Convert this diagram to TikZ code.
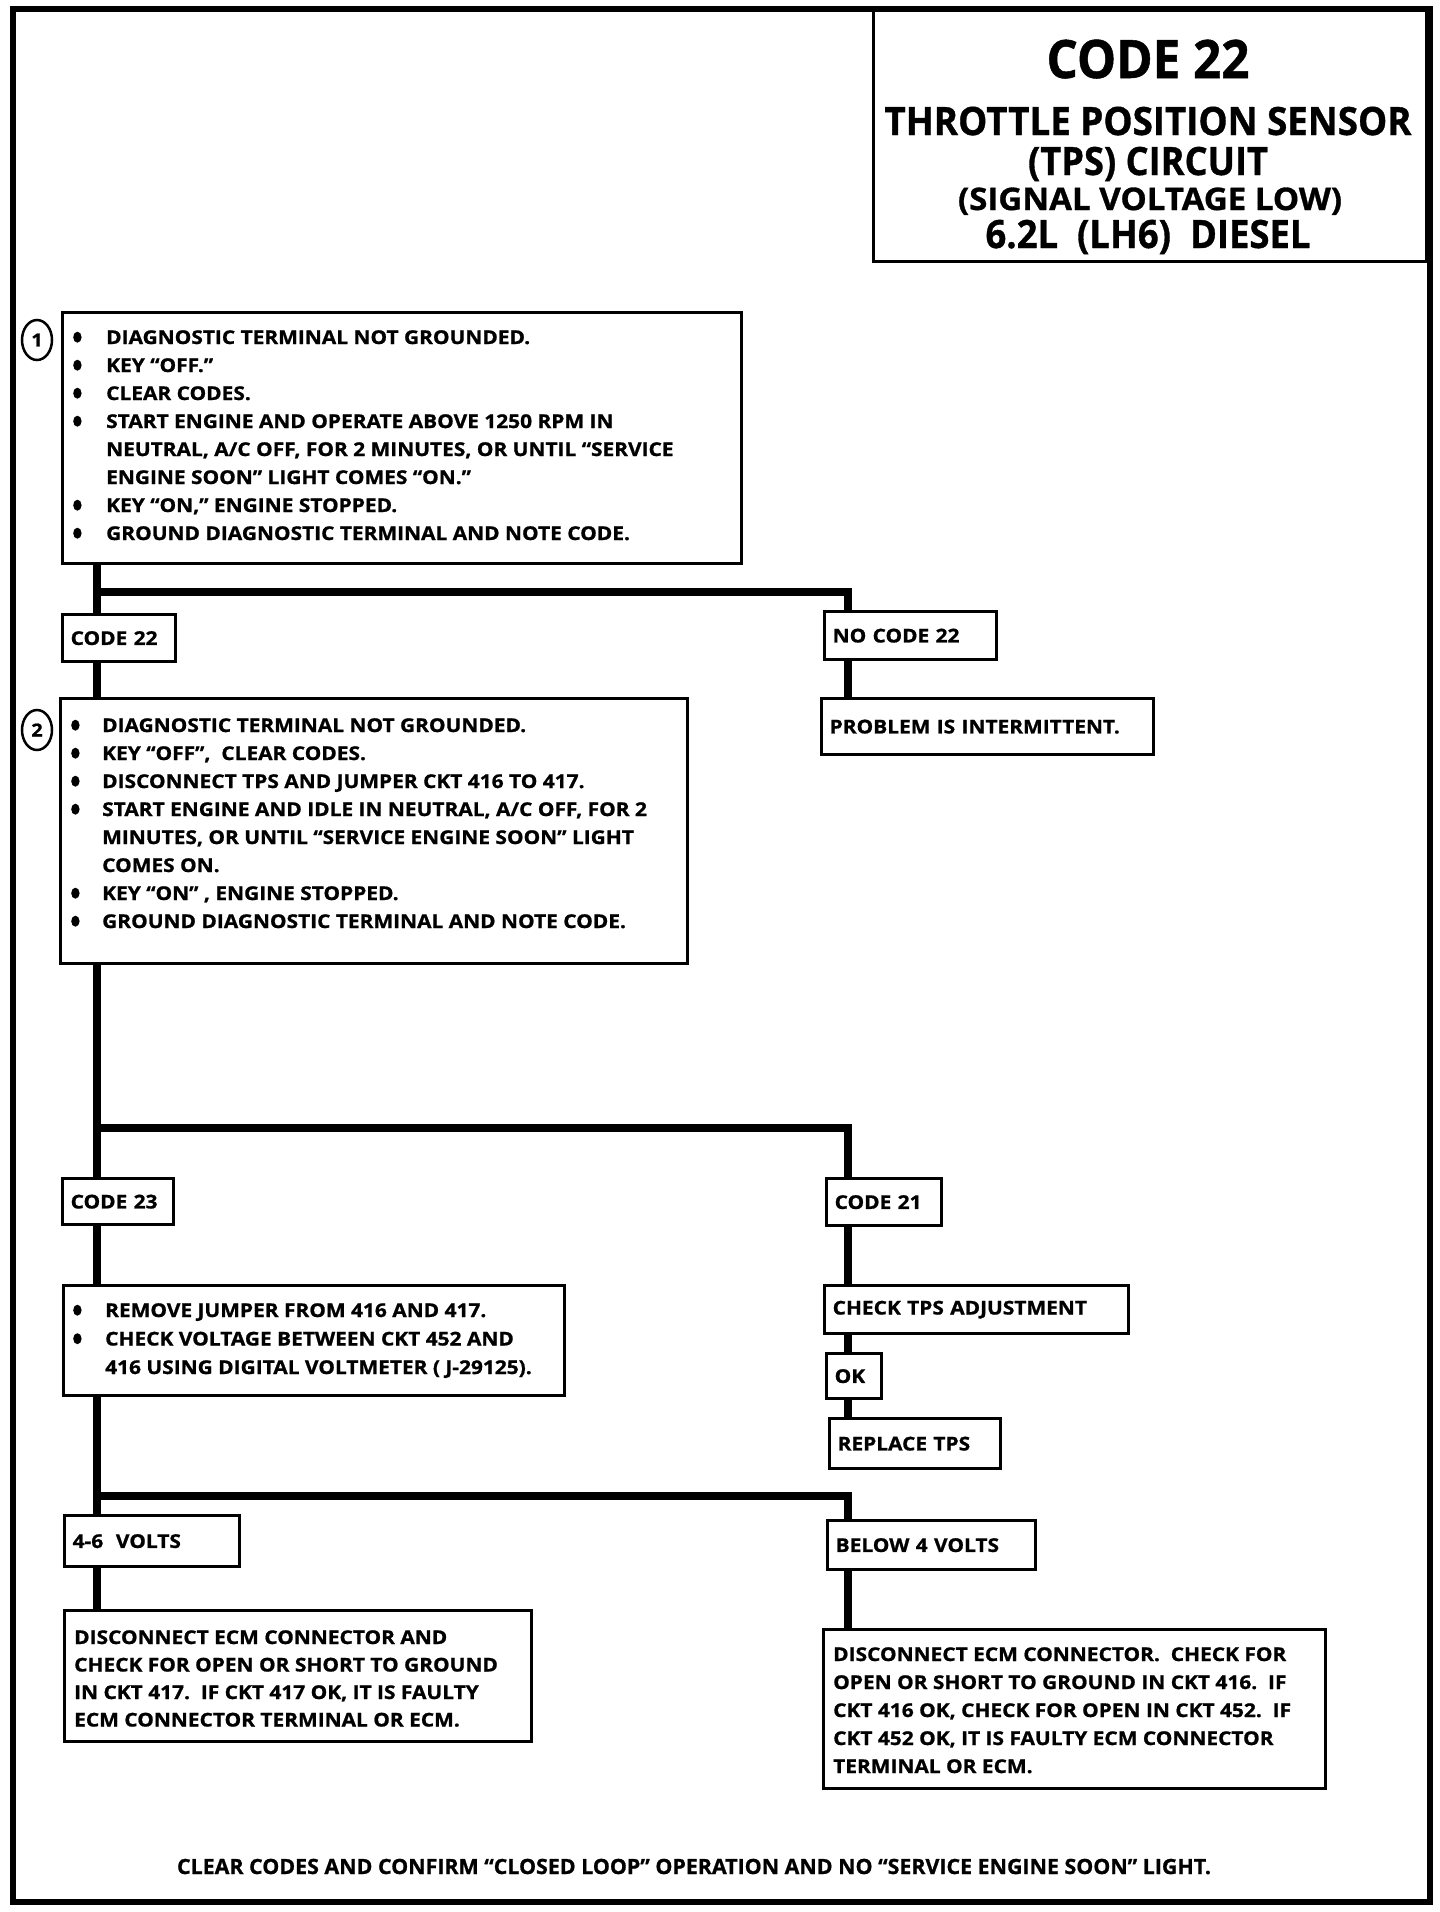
\documentclass[tikz,border=0pt]{standalone}
\usepackage{fontspec}
\usepackage{graphicx}
\setmainfont{Open Sans}[BoldFeatures={FakeStretch=1.1,FakeBold=1}]
\usetikzlibrary{shapes.geometric,calc}
\newcommand\bodyfont{\fontsize{19}{28}\selectfont\bfseries}
\newcommand\fitw[2]{\setbox0=\hbox{#2}\pgfmathsetmacro\fitr{#1/\wd0}\scalebox{\fitr}[1]{\box0}}
\newcommand\bdot{\tikz[baseline=0pt]\fill[black] (4.2pt,6.8pt) ellipse [x radius=4.2pt, y radius=5.5pt];}
\newcommand\bl[1]{\makebox[#1][l]{\bdot}}
\newcommand\fl{\rule{0pt}{15pt}}
\begin{document}
\begin{tikzpicture}[x=1pt,y=-1pt,
  frame/.style={line width=6pt},
  box/.style={draw, line width=3.3pt, rectangle, inner sep=0pt, anchor=north west},
  lbl/.style={draw, line width=3.3pt, rectangle, anchor=north west, inner xsep=8pt, inner ysep=0pt, align=left, font=\bodyfont},
  txt/.style={anchor=north west, inner sep=0pt, align=left},
  conn/.style={line width=8.5pt},
  num/.style={draw, ellipse, line width=2.5pt, minimum width=30pt, minimum height=40pt, inner sep=0pt, font=\fontsize{18}{20}\selectfont\bfseries},
  ttl/.style={anchor=base, inner sep=0pt}
]
\useasboundingbox (0,0) rectangle (1440,1912);
\draw[frame] (13,9) rectangle (1430,1902);

% title
\node[box, minimum width=553pt, minimum height=251pt] (tb) at (872,9) {};
\node[ttl, font=\fontsize{53}{60}\selectfont\bfseries] (t1) at (1148,78) {\fitw{203}{CODE 22}};
\node[ttl, font=\fontsize{39}{44}\selectfont\bfseries] (t2) at (1148,135) {\fitw{527}{THROTTLE POSITION SENSOR}};
\node[ttl, font=\fontsize{39}{44}\selectfont\bfseries] (t3) at (1148,175) {\fitw{240}{(TPS) CIRCUIT}};
\node[ttl, font=\fontsize{31}{36}\selectfont\bfseries] (t4) at (1150,210) {\fitw{384}{(SIGNAL VOLTAGE LOW)}};
\node[ttl, font=\fontsize{39}{44}\selectfont\bfseries] (t5) at (1148,248) {\fitw{325}{6.2L\ \ (LH6)\ \ DIESEL}};

% step 1
\node[num] (n1) at (37,340) {1};
\node[box, minimum width=679pt, minimum height=251pt] (b1) at (61,311) {};
\node[txt, font=\fontsize{19}{28}\selectfont\bfseries] (b1t) at (73,328.8) {\fl\bl{33pt}DIAGNOSTIC TERMINAL NOT GROUNDED.\\
\bl{33pt}KEY “OFF.”\\
\bl{33pt}CLEAR CODES.\\
\bl{33pt}START ENGINE AND OPERATE ABOVE 1250 RPM IN\\
\hspace*{33pt}NEUTRAL, A/C OFF, FOR 2 MINUTES, OR UNTIL “SERVICE\\
\hspace*{33pt}ENGINE SOON” LIGHT COMES “ON.”\\
\bl{33pt}KEY “ON,” ENGINE STOPPED.\\
\bl{33pt}GROUND DIAGNOSTIC TERMINAL AND NOTE CODE.};

\node[lbl, text width=97pt, minimum height=47pt] (c22) at (61,613) {CODE 22};
\node[lbl, text width=156pt, minimum height=48pt] (nc22) at (823,610) {NO CODE 22};
\node[lbl, text width=316pt, minimum height=56pt] (prob) at (820,697) {PROBLEM IS INTERMITTENT.};

% step 2
\node[num] (n2) at (37,730) {2};
\node[box, minimum width=627pt, minimum height=265pt] (b2) at (59,697) {};
\node[txt, font=\fontsize{19}{28}\selectfont\bfseries] (b2t) at (71,716.8) {\fl\bl{31pt}DIAGNOSTIC TERMINAL NOT GROUNDED.\\
\bl{31pt}KEY “OFF”,\ \ CLEAR CODES.\\
\bl{31pt}DISCONNECT TPS AND JUMPER CKT 416 TO 417.\\
\bl{31pt}START ENGINE AND IDLE IN NEUTRAL, A/C OFF, FOR 2\\
\hspace*{31pt}MINUTES, OR UNTIL “SERVICE ENGINE SOON” LIGHT\\
\hspace*{31pt}COMES ON.\\
\bl{31pt}KEY “ON” , ENGINE STOPPED.\\
\bl{31pt}GROUND DIAGNOSTIC TERMINAL AND NOTE CODE.};

\node[lbl, text width=95pt, minimum height=46pt] (c23) at (61,1177) {CODE 23};
\node[lbl, text width=99pt, minimum height=47pt] (c21) at (825,1177) {CODE 21};

% step 3
\node[box, minimum width=501pt, minimum height=110pt] (b3) at (62,1284) {};
\node[txt, font=\fontsize{19}{28.5}\selectfont\bfseries] (b3t) at (73,1301.8) {\fl\bl{32pt}REMOVE JUMPER FROM 416 AND 417.\\
\bl{32pt}CHECK VOLTAGE BETWEEN CKT 452 AND\\
\hspace*{32pt}416 USING DIGITAL VOLTMETER ( J-29125).};

\node[lbl, text width=288pt, minimum height=48pt] (chk) at (823,1284) {CHECK TPS ADJUSTMENT};
\node[lbl, text width=39pt, minimum height=45pt] (ok) at (825,1352) {OK};
\node[lbl, text width=155pt, minimum height=50pt] (rep) at (828,1417) {REPLACE TPS};

\node[lbl, text width=159pt, minimum height=51pt] (v46) at (63,1514) {4-6\ \ VOLTS};
\node[lbl, text width=192pt, minimum height=49pt] (b4v) at (826,1519) {BELOW 4 VOLTS};

\node[box, minimum width=467pt, minimum height=131pt] (b4) at (63,1609) {};
\node[txt, font=\fontsize{19}{27.5}\selectfont\bfseries] (b4t) at (74,1628.8) {\fl DISCONNECT ECM CONNECTOR AND\\
CHECK FOR OPEN OR SHORT TO GROUND\\
IN CKT 417.\ \ IF CKT 417 OK, IT IS FAULTY\\
ECM CONNECTOR TERMINAL OR ECM.};

\node[box, minimum width=502pt, minimum height=159pt] (b5) at (822,1628) {};
\node[txt, font=\fontsize{19}{28}\selectfont\bfseries] (b5t) at (833,1645.8) {\fl DISCONNECT ECM CONNECTOR.\ \ CHECK FOR\\
OPEN OR SHORT TO GROUND IN CKT 416.\ \ IF\\
CKT 416 OK, CHECK FOR OPEN IN CKT 452.\ \ IF\\
CKT 452 OK, IT IS FAULTY ECM CONNECTOR\\
TERMINAL OR ECM.};

\node[ttl, font=\fontsize{21}{24}\selectfont\bfseries] (foot) at (694,1874) {\fitw{1034}{CLEAR CODES AND CONFIRM “CLOSED LOOP” OPERATION AND NO “SERVICE ENGINE SOON” LIGHT.}};

% connectors
\coordinate (tx) at (97,0);
\coordinate (rx) at (848,0);
\coordinate (j1) at (97,592);
\coordinate (j2) at (97,1128);
\coordinate (j3) at (97,1496);
\draw[conn] (b1.south -| tx) -- (c22.north -| tx);
\draw[conn] (j1) -| (nc22.north -| rx);
\draw[conn] (c22.south -| tx) -- (b2.north -| tx);
\draw[conn] (nc22.south -| rx) -- (prob.north -| rx);
\draw[conn] (b2.south -| tx) -- (c23.north -| tx);
\draw[conn] (j2) -| (c21.north -| rx);
\draw[conn] (c23.south -| tx) -- (b3.north -| tx);
\draw[conn] (c21.south -| rx) -- (chk.north -| rx);
\draw[conn] (chk.south -| rx) -- (ok.north -| rx);
\draw[conn] (ok.south -| rx) -- (rep.north -| rx);
\draw[conn] (b3.south -| tx) -- (v46.north -| tx);
\draw[conn] (j3) -| (b4v.north -| rx);
\draw[conn] (v46.south -| tx) -- (b4.north -| tx);
\draw[conn] (b4v.south -| rx) -- (b5.north -| rx);
\end{tikzpicture}
\end{document}
